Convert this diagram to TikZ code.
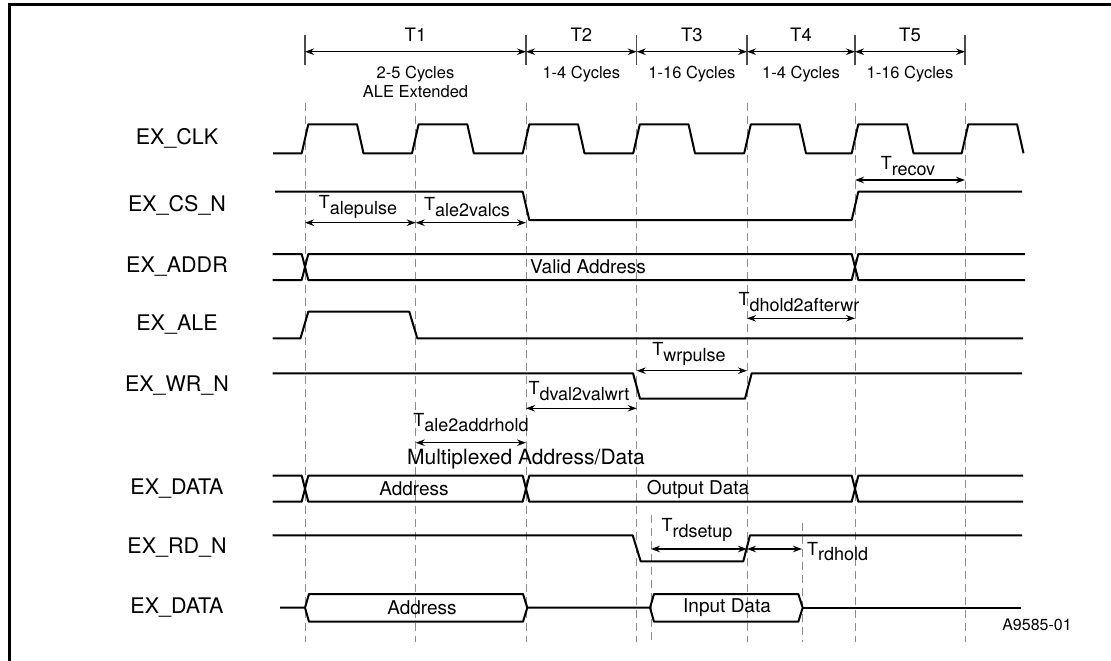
\documentclass[tikz,border=0pt]{standalone}
\usepackage{fontspec}
\setmainfont{TeX Gyre Heros}
\usetikzlibrary{arrows.meta, positioning, calc}
\newcommand{\tsub}[1]{T\raisebox{-5.5pt}{#1}}

\begin{document}
\begin{tikzpicture}[x=1pt, y=-1pt, >={Stealth[length=9pt, width=6.5pt]},
      wave/.style={line width=2pt, line join=round},
      gridline/.style={black!45, line width=1pt, dash pattern=on 8pt off 5pt},
      bar/.style={black!70, line width=1.3pt},
      dim/.style={<->, line width=1.3pt},
      sig/.style={font=\fontsize{21.5}{24}\selectfont},
      txt/.style={font=\fontsize{19}{22}\selectfont, inner sep=0pt},
      cyc/.style={font=\fontsize{16.5}{18.5}\selectfont, align=center, inner sep=0pt},
      tlab/.style={font=\fontsize{18}{20}\selectfont, inner sep=0pt}]

    \useasboundingbox (0,0) rectangle (1111,661);
    \draw[line width=3pt] (9,661) -- (9,4.2) -- (1111,4.2);

    % clock period grid
    \foreach \x in {305,415.7,526,636.7,747,855,965}
      \draw[gridline] (\x,103) -- (\x,642);
    \draw[gridline] (651,515) -- (651,642);
    \draw[gridline] (802,523) -- (802,642);

    % phases T1..T5
    \foreach \x in {305,526,636.7,747,855,965}
      \draw[bar] (\x,35) -- (\x,65);
    \foreach \a/\b/\t/\c in {305/526/T1/{2-5 Cycles\\ALE Extended},
                             526/636.7/T2/{1-4 Cycles},
                             636.7/747/T3/{1-16 Cycles},
                             747/855/T4/{1-4 Cycles},
                             855/965/T5/{1-16 Cycles}} {
      \draw[dim] (\a,51.7) -- (\b,51.7);
      \node[cyc, font=\fontsize{18.5}{20}\selectfont] at ({(\a+\b)/2},35) {\t};
      \node[cyc, anchor=north] at ({(\a+\b)/2},66) {\c};
    }

    % signal names
    \node[sig] (clk)  at (177,138.5) {EX\_CLK};
    \node[sig] (cs)   at (177,205.5) {EX\_CS\_N};
    \node[sig] (addr) at (177,267)   {EX\_ADDR};
    \node[sig] (ale)  at (177,325)   {EX\_ALE};
    \node[sig] (wr)   at (177,386)   {EX\_WR\_N};
    \node[sig] (dat)  at (177,489)   {EX\_DATA};
    \node[sig] (rd)   at (177,548)   {EX\_RD\_N};
    \node[sig] (din)  at (177,608)   {EX\_DATA};

    % EX_CLK
    \draw[wave] (273,153.3) \foreach \g in {305,415.3,526,636.5,747.5,855,965}
      { -- (\g-3.3,153.3) -- (\g+3.3,124.3) -- (\g+52,124.3) -- (\g+58.5,153.3) };

    % EX_CS_N
    \draw[wave] (275,191.7) -- (522.7,191.7) -- (529.3,220) -- (851.7,220)
      -- (858.3,191.7) -- (1022,191.7);
    \draw[dim] (305,222.7) -- (415.7,222.7);
    \draw[dim] (415.7,222.7) -- (526,222.7);
    \node[tlab] at (358,207) {\tsub{alepulse}};
    \node[tlab] at (467,207) {\tsub{ale2valcs}};
    \draw[dim] (855,180) -- (965,180);
    \node[tlab] at (908,166) {\tsub{recov}};

    % EX_ADDR
    \draw[wave] (272.7,254) -- (301.7,254) -- (308.3,280) -- (851.7,280)
      -- (858.3,254) -- (1025,254);
    \draw[wave] (272.7,280) -- (301.7,280) -- (308.3,254) -- (851.7,254)
      -- (858.3,280) -- (1025,280);
    \node[txt] at (588,267) {Valid Address};

    % EX_ALE
    \draw[wave] (272.7,338.3) -- (300.5,338.3) -- (308.3,311.7) -- (409.3,311.7)
      -- (417.3,338.3) -- (1023,338.3);
    \draw[dim] (747,318.3) -- (855,318.3);
    \node[tlab] at (799,302) {\tsub{dhold2afterwr}};

    % EX_WR_N
    \draw[wave] (272.7,373.3) -- (633,373.3) -- (640,398.7) -- (745,398.7)
      -- (751.7,373.3) -- (1022,373.3);
    \draw[dim] (636.7,370.7) -- (747,370.7);
    \node[tlab] at (689,354) {\tsub{wrpulse}};
    \draw[dim] (526,408.3) -- (636.7,408.3);
    \node[tlab] at (579,391) {\tsub{dval2valwrt}};
    \draw[dim] (415.7,442.7) -- (526,442.7);
    \node[tlab] at (471,422.5) {\tsub{ale2addrhold}};

    % EX_DATA (multiplexed)
    \node[font=\fontsize{21}{24}\selectfont, inner sep=0pt] at (526,459.5)
      {Multiplexed Address/Data};
    \draw[wave] (272.7,475.7) -- (301.7,475.7) -- (308.3,501.7) -- (522.7,501.7)
      -- (529.3,475.7) -- (851.7,475.7) -- (858.3,501.7) -- (1023,501.7);
    \draw[wave] (272.7,501.7) -- (301.7,501.7) -- (308.3,475.7) -- (522.7,475.7)
      -- (529.3,501.7) -- (851.7,501.7) -- (858.3,475.7) -- (1023,475.7);
    \node[txt] at (414,489) {Address};
    \node[txt] at (698,489) {Output Data};

    % EX_RD_N
    \draw[wave] (272.7,535.3) -- (632.7,535.3) -- (640.7,561.3) -- (743.3,561.3)
      -- (750,535.3) -- (1022,535.3);
    \draw[dim] (651,549) -- (747,549);
    \node[tlab] at (697,530) {\tsub{rdsetup}};
    \draw[dim] (747,549) -- (802,549);
    \node[tlab, anchor=west] at (807,551.5) {\tsub{rdhold}};

    % EX_DATA (input)
    \draw[wave] (280,607.7) -- (305,607.7) -- (309,594) -- (523,594) -- (527.3,607.7)
      -- (523,621.7) -- (309,621.7) -- (305,607.7);
    \draw[wave] (527.3,607.7) -- (650,607.7) -- (654,594) -- (798.3,594)
      -- (802.7,607.7) -- (798.3,621.7) -- (654,621.7) -- (650,607.7);
    \draw[wave] (802.7,607.7) -- (1021,607.7);
    \node[txt] at (422,608) {Address};
    \node[txt] at (727,608) {Input Data};

    \node[font=\fontsize{16}{18}\selectfont, inner sep=0pt] at (1037,625) {A9585-01};
  \end{tikzpicture}
\end{document}
